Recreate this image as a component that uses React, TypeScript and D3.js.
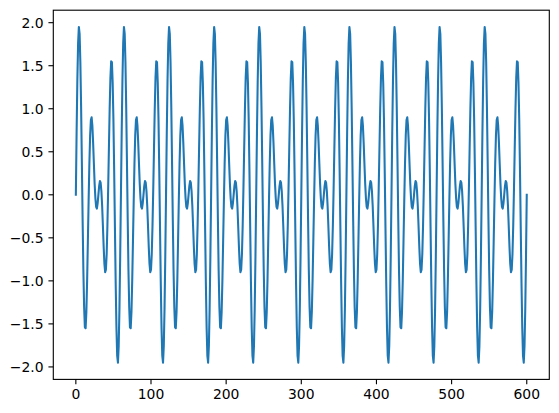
import React from "react";
import * as d3 from "d3";

const signalValues: number[] = [
  0, 0.72, 1.33, 1.76, 1.95, 1.87, 1.54, 1.02, 0.38, -0.28, -0.87, -1.30, -1.54, -1.55, -1.36, -1.00, -0.54, -0.07, 0.36, 0.69, 0.87, 0.90, 0.80, 0.60, 0.36, 0.13, -0.04, -0.14, -0.16, -0.10, 0, 0.10, 0.16, 0.14, 0.04, -0.13, -0.36, -0.60, -0.80, -0.90, -0.87, -0.69, -0.36, 0.07, 0.54, 1.00, 1.36, 1.55, 1.54, 1.30, 0.87, 0.28, -0.38, -1.02, -1.54, -1.87, -1.95, -1.76, -1.33, -0.72,
  0, 0.72, 1.33, 1.76, 1.95, 1.87, 1.54, 1.02, 0.38, -0.28, -0.87, -1.30, -1.54, -1.55, -1.36, -1.00, -0.54, -0.07, 0.36, 0.69, 0.87, 0.90, 0.80, 0.60, 0.36, 0.13, -0.04, -0.14, -0.16, -0.10, 0, 0.10, 0.16, 0.14, 0.04, -0.13, -0.36, -0.60, -0.80, -0.90, -0.87, -0.69, -0.36, 0.07, 0.54, 1.00, 1.36, 1.55, 1.54, 1.30, 0.87, 0.28, -0.38, -1.02, -1.54, -1.87, -1.95, -1.76, -1.33, -0.72,
  0, 0.72, 1.33, 1.76, 1.95, 1.87, 1.54, 1.02, 0.38, -0.28, -0.87, -1.30, -1.54, -1.55, -1.36, -1.00, -0.54, -0.07, 0.36, 0.69, 0.87, 0.90, 0.80, 0.60, 0.36, 0.13, -0.04, -0.14, -0.16, -0.10, 0, 0.10, 0.16, 0.14, 0.04, -0.13, -0.36, -0.60, -0.80, -0.90, -0.87, -0.69, -0.36, 0.07, 0.54, 1.00, 1.36, 1.55, 1.54, 1.30, 0.87, 0.28, -0.38, -1.02, -1.54, -1.87, -1.95, -1.76, -1.33, -0.72,
  0, 0.72, 1.33, 1.76, 1.95, 1.87, 1.54, 1.02, 0.38, -0.28, -0.87, -1.30, -1.54, -1.55, -1.36, -1.00, -0.54, -0.07, 0.36, 0.69, 0.87, 0.90, 0.80, 0.60, 0.36, 0.13, -0.04, -0.14, -0.16, -0.10, 0, 0.10, 0.16, 0.14, 0.04, -0.13, -0.36, -0.60, -0.80, -0.90, -0.87, -0.69, -0.36, 0.07, 0.54, 1.00, 1.36, 1.55, 1.54, 1.30, 0.87, 0.28, -0.38, -1.02, -1.54, -1.87, -1.95, -1.76, -1.33, -0.72,
  0, 0.72, 1.33, 1.76, 1.95, 1.87, 1.54, 1.02, 0.38, -0.28, -0.87, -1.30, -1.54, -1.55, -1.36, -1.00, -0.54, -0.07, 0.36, 0.69, 0.87, 0.90, 0.80, 0.60, 0.36, 0.13, -0.04, -0.14, -0.16, -0.10, 0, 0.10, 0.16, 0.14, 0.04, -0.13, -0.36, -0.60, -0.80, -0.90, -0.87, -0.69, -0.36, 0.07, 0.54, 1.00, 1.36, 1.55, 1.54, 1.30, 0.87, 0.28, -0.38, -1.02, -1.54, -1.87, -1.95, -1.76, -1.33, -0.72,
  0, 0.72, 1.33, 1.76, 1.95, 1.87, 1.54, 1.02, 0.38, -0.28, -0.87, -1.30, -1.54, -1.55, -1.36, -1.00, -0.54, -0.07, 0.36, 0.69, 0.87, 0.90, 0.80, 0.60, 0.36, 0.13, -0.04, -0.14, -0.16, -0.10, 0, 0.10, 0.16, 0.14, 0.04, -0.13, -0.36, -0.60, -0.80, -0.90, -0.87, -0.69, -0.36, 0.07, 0.54, 1.00, 1.36, 1.55, 1.54, 1.30, 0.87, 0.28, -0.38, -1.02, -1.54, -1.87, -1.95, -1.76, -1.33, -0.72,
  0, 0.72, 1.33, 1.76, 1.95, 1.87, 1.54, 1.02, 0.38, -0.28, -0.87, -1.30, -1.54, -1.55, -1.36, -1.00, -0.54, -0.07, 0.36, 0.69, 0.87, 0.90, 0.80, 0.60, 0.36, 0.13, -0.04, -0.14, -0.16, -0.10, 0, 0.10, 0.16, 0.14, 0.04, -0.13, -0.36, -0.60, -0.80, -0.90, -0.87, -0.69, -0.36, 0.07, 0.54, 1.00, 1.36, 1.55, 1.54, 1.30, 0.87, 0.28, -0.38, -1.02, -1.54, -1.87, -1.95, -1.76, -1.33, -0.72,
  0, 0.72, 1.33, 1.76, 1.95, 1.87, 1.54, 1.02, 0.38, -0.28, -0.87, -1.30, -1.54, -1.55, -1.36, -1.00, -0.54, -0.07, 0.36, 0.69, 0.87, 0.90, 0.80, 0.60, 0.36, 0.13, -0.04, -0.14, -0.16, -0.10, 0, 0.10, 0.16, 0.14, 0.04, -0.13, -0.36, -0.60, -0.80, -0.90, -0.87, -0.69, -0.36, 0.07, 0.54, 1.00, 1.36, 1.55, 1.54, 1.30, 0.87, 0.28, -0.38, -1.02, -1.54, -1.87, -1.95, -1.76, -1.33, -0.72,
  0, 0.72, 1.33, 1.76, 1.95, 1.87, 1.54, 1.02, 0.38, -0.28, -0.87, -1.30, -1.54, -1.55, -1.36, -1.00, -0.54, -0.07, 0.36, 0.69, 0.87, 0.90, 0.80, 0.60, 0.36, 0.13, -0.04, -0.14, -0.16, -0.10, 0, 0.10, 0.16, 0.14, 0.04, -0.13, -0.36, -0.60, -0.80, -0.90, -0.87, -0.69, -0.36, 0.07, 0.54, 1.00, 1.36, 1.55, 1.54, 1.30, 0.87, 0.28, -0.38, -1.02, -1.54, -1.87, -1.95, -1.76, -1.33, -0.72,
  0, 0.72, 1.33, 1.76, 1.95, 1.87, 1.54, 1.02, 0.38, -0.28, -0.87, -1.30, -1.54, -1.55, -1.36, -1.00, -0.54, -0.07, 0.36, 0.69, 0.87, 0.90, 0.80, 0.60, 0.36, 0.13, -0.04, -0.14, -0.16, -0.10, 0, 0.10, 0.16, 0.14, 0.04, -0.13, -0.36, -0.60, -0.80, -0.90, -0.87, -0.69, -0.36, 0.07, 0.54, 1.00, 1.36, 1.55, 1.54, 1.30, 0.87, 0.28, -0.38, -1.02, -1.54, -1.87, -1.95, -1.76, -1.33, -0.72,
  0,
];

const xTickValues: number[] = [0, 100, 200, 300, 400, 500, 600];
const yTickValues: number[] = [-2.0, -1.5, -1.0, -0.5, 0.0, 0.5, 1.0, 1.5, 2.0];

const WIDTH = 559;
const HEIGHT = 413;
const AX_LEFT = 53.3;
const AX_TOP = 10.2;
const AX_W = 496;
const AX_H = 369.2;
const FONT = "'DejaVu Sans', sans-serif";
const FONT_SIZE = 13.9;
const TICK_LEN = 4.86;
const PAD = 4.86;

export default function App() {
  const points = signalValues.map((v, i) => [i, v] as [number, number]);
  const xMin = 0;
  const xMax = signalValues.length - 1;
  const xMargin = (xMax - xMin) * 0.05;
  const yMin = d3.min(signalValues) as number;
  const yMax = d3.max(signalValues) as number;
  const yMargin = (yMax - yMin) * 0.05;

  const x = d3
    .scaleLinear()
    .domain([xMin - xMargin, xMax + xMargin])
    .range([AX_LEFT, AX_LEFT + AX_W]);
  const y = d3
    .scaleLinear()
    .domain([yMin - yMargin, yMax + yMargin])
    .range([AX_TOP + AX_H, AX_TOP]);

  const line = d3
    .line<[number, number]>()
    .x((d) => x(d[0]))
    .y((d) => y(d[1]));

  const fmtY = (v: number) => {
    const s = Math.abs(v).toFixed(1);
    return v < 0 ? "\u2212" + s : s;
  };

  const bottom = AX_TOP + AX_H;

  return (
    <svg
      width={WIDTH}
      height={HEIGHT}
      style={{ position: "absolute", left: 0, top: 0, display: "block", background: "#fff" }}
    >
      <rect x={0} y={0} width={WIDTH} height={HEIGHT} fill="#fff" />
      <defs>
        <clipPath id="axclip">
          <rect x={AX_LEFT} y={AX_TOP} width={AX_W} height={AX_H} />
        </clipPath>
      </defs>
      <path
        d={line(points) || ""}
        fill="none"
        stroke="#1f77b4"
        strokeWidth={2.08}
        strokeLinejoin="round"
        strokeLinecap="square"
        clipPath="url(#axclip)"
      />
      <rect
        x={AX_LEFT}
        y={AX_TOP}
        width={AX_W}
        height={AX_H}
        fill="none"
        stroke="#000"
        strokeWidth={1.11}
      />
      {xTickValues.map((t) => (
        <g key={"x" + t}>
          <line x1={x(t)} x2={x(t)} y1={bottom} y2={bottom + TICK_LEN} stroke="#000" strokeWidth={1.11} />
          <text
            x={x(t)}
            y={bottom + TICK_LEN + PAD + 10.3}
            textAnchor="middle"
            fontFamily={FONT}
            fontSize={FONT_SIZE}
            fill="#000"
          >
            {String(t)}
          </text>
        </g>
      ))}
      {yTickValues.map((t) => (
        <g key={"y" + t}>
          <line x1={AX_LEFT - TICK_LEN} x2={AX_LEFT} y1={y(t)} y2={y(t)} stroke="#000" strokeWidth={1.11} />
          <text
            x={AX_LEFT - TICK_LEN - PAD}
            y={y(t) + 5}
            textAnchor="end"
            fontFamily={FONT}
            fontSize={FONT_SIZE}
            fill="#000"
          >
            {fmtY(t)}
          </text>
        </g>
      ))}
    </svg>
  );
}
